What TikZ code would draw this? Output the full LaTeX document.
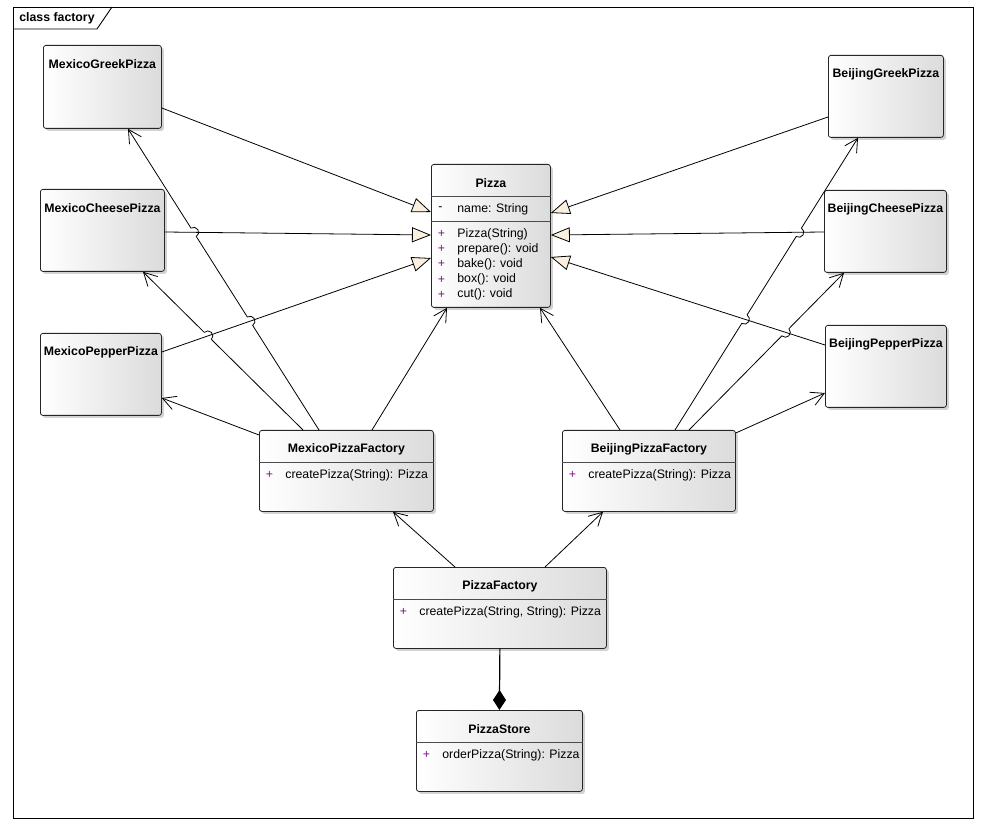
\documentclass[tikz,border=0pt]{standalone}
\usepackage{fontspec}
\setmainfont{Liberation Sans}
\usepackage{xcolor}
\usetikzlibrary{arrows.meta, calc, intersections, shadows}

\definecolor{genfill}{RGB}{251,240,224}
\definecolor{opmark}{RGB}{120,20,120}

% jump of a dependency line over a generalization line
\newcommand\linehop[3]{%
  \path[name intersections={of=#1 and #2, by=hop}];
  \fill[white] (hop) circle (5pt);
  \draw ($(hop)+(#3:5pt)$) arc[start angle=#3, end angle=#3-180, radius=5pt];
}

\begin{document}
\begin{tikzpicture}[x=1pt, y=-1pt, line width=0.8pt,
    every node/.style={font=\fontsize{12.3}{14}\selectfont},
    cls/.style={draw=black!85, rounded corners=2.5pt, anchor=north west, inner sep=0pt,
      left color=white, right color=black!14,
      drop shadow={shadow xshift=2.5pt, shadow yshift=-2.5pt, fill=black!35}},
    title/.style={font=\fontsize{12.3}{14}\selectfont\bfseries},
    member/.style={anchor=west, inner sep=0pt},
    gen/.style={-{Triangle[length=19pt, width=15pt, fill=genfill]}},
    dep/.style={-{Straight Barb[length=13pt, width=14pt]}},
    comp/.style={{Diamond[length=20pt, width=13pt]}-, line width=1.2pt}]
    \useasboundingbox (0,0) rectangle (989,826);

    % frame
    \draw[line width=0.9pt] (13,7) rectangle (973,818);
    \draw[line width=0.9pt] (13,29) -- (97,29) -- (112,7);
    \node[title, anchor=west, inner sep=0pt] (frame-t) at (19,18) {class factory};

    % products
    \node[cls, minimum width=118pt, minimum height=83pt] (mgreek) at (43,45) {};
    \node[cls, minimum width=124pt, minimum height=82pt] (mcheese) at (40,189) {};
    \node[cls, minimum width=121pt, minimum height=82pt] (mpepper) at (40,333) {};
    \node[cls, minimum width=115pt, minimum height=82pt] (bgreek) at (828,55) {};
    \node[cls, minimum width=122pt, minimum height=82pt] (bcheese) at (824,190) {};
    \node[cls, minimum width=121pt, minimum height=82pt] (bpepper) at (825,325) {};
    \foreach \n/\t in {mgreek/MexicoGreekPizza, mcheese/MexicoCheesePizza, mpepper/MexicoPepperPizza,
        bgreek/BeijingGreekPizza, bcheese/BeijingCheesePizza, bpepper/BeijingPepperPizza}
      \node[title] (\n-t) at ([yshift=-19pt]\n.north) {\t};

    % classes with members
    \node[cls, minimum width=119pt, minimum height=143pt] (pizza) at (431,164) {};
    \node[cls, minimum width=174pt, minimum height=81pt] (mfac) at (259,430) {};
    \node[cls, minimum width=173pt, minimum height=81pt] (bfac) at (562,430) {};
    \node[cls, minimum width=213pt, minimum height=81pt] (pfac) at (393,567) {};
    \node[cls, minimum width=166pt, minimum height=81pt] (store) at (416,710) {};
    \foreach \n/\t in {pizza/Pizza, mfac/MexicoPizzaFactory, bfac/BeijingPizzaFactory,
        pfac/PizzaFactory, store/PizzaStore} {
      \node[title] (\n-t) at ([yshift=-19pt]\n.north) {\t};
      \draw[black!70] ([yshift=-32.5pt]\n.north west) -- ([yshift=-32.5pt]\n.north east);
    }
    \draw[black!70] ([yshift=-57pt]pizza.north west) -- ([yshift=-57pt]pizza.north east);

    \node[member] (pizza-v) at ([xshift=7pt, yshift=-45pt]pizza.north west) {-};
    \node[member] (pizza-a) at ([xshift=26pt, yshift=-45pt]pizza.north west) {name: String};
    \foreach \op [count=\i] in {Pizza(String), prepare(): void, bake(): void, box(): void, cut(): void} {
      \node[member, text=opmark] (pizza-p\i) at ([xshift=6.5pt, yshift=-54.8pt-15.2pt*\i]pizza.north west) {+};
      \node[member] (pizza-o\i) at ([xshift=26pt, yshift=-54.8pt-15.2pt*\i]pizza.north west) {\op};
    }
    \foreach \n/\op in {mfac/createPizza(String): Pizza, bfac/createPizza(String): Pizza,
        pfac/{createPizza(String, String): Pizza}, store/orderPizza(String): Pizza} {
      \node[member, text=opmark] (\n-p) at ([xshift=6.5pt, yshift=-45pt]\n.north west) {+};
      \node[member] (\n-o) at ([xshift=26pt, yshift=-45pt]\n.north west) {\op};
    }

    % generalization lines that get crossed
    \path[name path=gmc] (mcheese.east |- 0,232) -- (pizza.west |- 0,235);
    \path[name path=gmp] (mpepper.east |- 0,352) -- (pizza.west |- 0,258);
    \path[name path=gbc] (bcheese.west |- 0,232) -- (pizza.east |- 0,235);
    \path[name path=gbp] (bpepper.west |- 0,345) -- (pizza.east |- 0,257);

    % dependencies
    \draw[dep, name path=dmg] (mfac.north -| 319,0) -- (mgreek.south -| 128,0);
    \draw[dep, name path=dmc] (mfac.north -| 303,0) -- (mcheese.south -| 143,0);
    \draw[dep] (mfac.west |- 0,435) -- (mpepper.east |- 0,398);
    \draw[dep] (mfac.north -| 372,0) -- (pizza.south -| 447,0);
    \draw[dep] (bfac.north -| 620,0) -- (pizza.south -| 540,0);
    \draw[dep, name path=dbg] (bfac.north -| 675,0) -- (bgreek.south -| 858,0);
    \draw[dep, name path=dbc] (bfac.north -| 689,0) -- (bcheese.south -| 844,0);
    \draw[dep] (bfac.east |- 0,433) -- (bpepper.west |- 0,393);
    \draw[dep] (pfac.north -| 455,0) -- (mfac.south -| 393,0);
    \draw[dep] (pfac.north -| 545,0) -- (bfac.south -| 603,0);

    \linehop{dmg}{gmc}{122}
    \linehop{dmg}{gmp}{122}
    \linehop{dmc}{gmp}{135}
    \linehop{dbg}{gbc}{58}
    \linehop{dbg}{gbp}{58}
    \linehop{dbc}{gbp}{45}

    % generalizations
    \path (mgreek.east |- 0,108) edge[gen] (pizza.west |- 0,212)
          (mcheese.east |- 0,232) edge[gen] (pizza.west |- 0,235)
          (mpepper.east |- 0,352) edge[gen] (pizza.west |- 0,258)
          (bgreek.west |- 0,117) edge[gen] (pizza.east |- 0,213)
          (bcheese.west |- 0,232) edge[gen] (pizza.east |- 0,235)
          (bpepper.west |- 0,345) edge[gen] (pizza.east |- 0,257);

    % composition
    \draw[comp] (store.north) -- (pfac.south);
\end{tikzpicture}
\end{document}
